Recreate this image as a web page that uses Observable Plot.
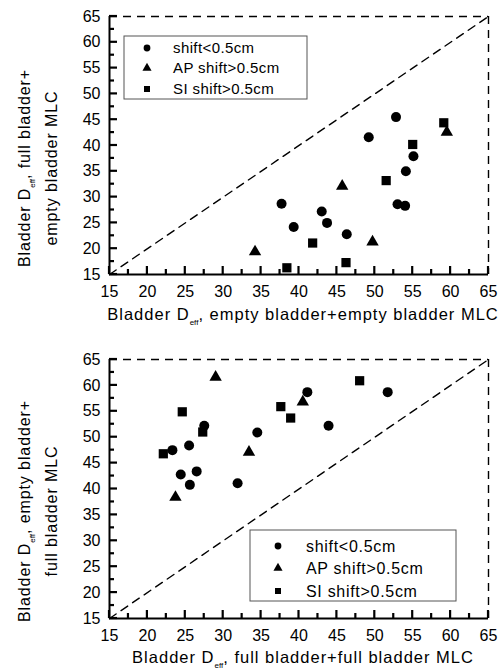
<!DOCTYPE html>
<html><head><meta charset="utf-8">
<script src="https://cdn.jsdelivr.net/npm/d3@7"></script>
<script src="https://cdn.jsdelivr.net/npm/@observablehq/plot@0.6"></script>
<style>
body{margin:0;background:#fff;font-family:"Liberation Sans",Arial,sans-serif}
svg{display:block}
</style>
</head><body><div id="chart"></div>
<script>
// ---- data ----
const seriesNames = ["shift<0.5cm", "AP shift>0.5cm", "SI shift>0.5cm"];
const seriesSymbols = ["circle", "triangle", "square"];
const majorTicks = [15, 20, 25, 30, 35, 40, 45, 50, 55, 60, 65];
const minorTicks = [17.5, 22.5, 27.5, 32.5, 37.5, 42.5, 47.5, 52.5, 57.5, 62.5];
const axisDomain = [15, 65];

// top panel: x = empty bladder + empty bladder MLC, y = full bladder + empty bladder MLC
const topShiftX = [37.7, 39.3, 43.0, 43.7, 46.3, 49.2, 52.8, 53.0, 54.0, 54.1, 55.1];
const topShiftY = [28.7, 24.2, 27.2, 25.0, 22.8, 41.6, 45.5, 28.6, 28.3, 35.0, 37.9];
const topAPX = [34.2, 45.7, 49.7, 59.5];
const topAPY = [19.4, 32.1, 21.3, 42.6];
const topSIX = [38.4, 41.8, 46.2, 51.5, 55.0, 59.1];
const topSIY = [16.3, 21.1, 17.3, 33.2, 40.2, 44.4];

// bottom panel: x = full bladder + full bladder MLC, y = empty bladder + full bladder MLC
const botShiftX = [23.3, 24.4, 25.5, 25.6, 26.5, 27.5, 31.9, 34.5, 41.1, 43.9, 51.7];
const botShiftY = [47.5, 42.8, 48.4, 40.8, 43.4, 52.2, 41.1, 50.9, 58.7, 52.2, 58.7];
const botAPX = [23.7, 29.0, 33.4, 40.5];
const botAPY = [38.4, 61.6, 47.1, 56.8];
const botSIX = [22.1, 24.6, 27.3, 37.6, 38.9, 48.0];
const botSIY = [46.8, 54.9, 51.0, 55.9, 53.7, 60.9];

const topYLabel = [["Bladder D", "eff", ", full bladder+"], ["empty bladder MLC"]];
const topXLabel = ["Bladder D", "eff", ", empty bladder+empty bladder MLC"];
const botYLabel = [["Bladder D", "eff", ", empty bladder+"], ["full bladder MLC"]];
const botXLabel = ["Bladder D", "eff", ", full bladder+full bladder MLC"];

const zip = (xs, ys) => xs.map((x, i) => ({x, y: ys[i]}));

function panel(cfg) {
  const W = 500, ml = 109, mr = 12;
  const dash = "8,6";
  const sizes = [5, 4.6, 5.2];
  const svg = Plot.plot({
    width: W, height: cfg.height,
    marginLeft: ml, marginRight: mr, marginTop: cfg.mt, marginBottom: cfg.mb,
    style: {fontFamily: '"Liberation Sans", Arial, sans-serif', fontSize: "16px", color: "#000", background: "#fff"},
    x: {domain: axisDomain, label: null},
    y: {domain: axisDomain, label: null},
    marks: [
      Plot.ruleY([65], {stroke: "#000", strokeWidth: 1.4, strokeDasharray: dash}),
      Plot.ruleX([65], {stroke: "#000", strokeWidth: 1.4, strokeDasharray: dash}),
      Plot.line(axisDomain.map(v => [v, v]), {stroke: "#000", strokeWidth: 1.4, strokeDasharray: dash}),
      Plot.axisX(majorTicks, {tickSize: 0, tickPadding: 11, fontSize: 16}),
      Plot.axisY(majorTicks, {tickSize: 0, tickPadding: 9, fontSize: 16}),
      Plot.ruleX([15], {stroke: "#000", strokeWidth: 2}),
      Plot.ruleY([15], {stroke: "#000", strokeWidth: 2}),
      ...cfg.series.map((s, i) => Plot.dot(s, {x: "x", y: "y", symbol: () => seriesSymbols[i], fill: "#000", stroke: "none", r: sizes[i]}))
    ]
  });
  const g = d3.select(svg);
  const sx = svg.scale("x"), sy = svg.scale("y");
  const x0 = sx.apply(axisDomain[0]), y0 = sy.apply(axisDomain[0]);
  const tg = g.append("g").attr("stroke", "#000").attr("stroke-width", 2.2);
  [[majorTicks, 8], [minorTicks, 5]].forEach(([ticks, len]) => {
    ticks.forEach(v => {
      const px = sx.apply(v), py = sy.apply(v);
      tg.append("line").attr("x1", px).attr("x2", px).attr("y1", y0).attr("y2", y0 - len);
      tg.append("line").attr("x1", x0).attr("x2", x0 + len).attr("y1", py).attr("y2", py);
    });
  });
  function addLabel(parts, x, y, rotate, fs, ls) {
    const t = g.append("text")
      .attr("transform", `translate(${x},${y})` + (rotate ? " rotate(-90)" : ""))
      .attr("text-anchor", "middle")
      .attr("font-size", fs)
      .attr("letter-spacing", ls)
      .attr("fill", "#000");
    parts.forEach((p, i) => {
      if (i === 1) {
        t.append("tspan").attr("font-size", 8).attr("letter-spacing", 0).attr("dy", 5).text(p);
      } else if (i === 2) {
        t.append("tspan").attr("dy", -5).text(p);
      } else {
        t.append("tspan").text(p);
      }
    });
  }
  addLabel(cfg.xLabel, 303, cfg.xLabelY, false, 16.5, 1);
  addLabel(cfg.yLabel[0], 30, cfg.yLabelCY, true, 16, 0.9);
  addLabel(cfg.yLabel[1], 57, cfg.yLabelCY, true, 16, 0.9);

  // legend
  const L = cfg.legend;
  const lg = g.append("g").attr("text-anchor", "start");
  lg.append("rect").attr("x", L.x).attr("y", L.y).attr("width", L.w).attr("height", L.h)
    .attr("fill", "#fff").attr("stroke", "#555").attr("stroke-width", 1);
  const symMap = {circle: d3.symbolCircle, triangle: d3.symbolTriangle, square: d3.symbolSquare};
  seriesNames.forEach((name, i) => {
    const cy = L.y + L.rows[i];
    lg.append("path").attr("transform", `translate(${L.sx},${cy})`)
      .attr("d", d3.symbol(symMap[seriesSymbols[i]], 36)()).attr("fill", "#000");
    lg.append("text").attr("x", L.tx).attr("y", cy).attr("dy", "0.36em")
      .attr("text-anchor", "start").attr("letter-spacing", L.ls)
      .attr("font-size", L.fs).attr("fill", "#000").text(name);
  });
  return svg;
}

const root = document.getElementById("chart");
root.appendChild(panel({
  height: 327, mt: 16, mb: 53,
  series: [zip(topShiftX, topShiftY), zip(topAPX, topAPY), zip(topSIX, topSIY)],
  xLabel: topXLabel, xLabelY: 320, yLabel: topYLabel, yLabelCY: 168,
  legend: {x: 124, y: 36, w: 183, h: 63, rows: [12, 32, 53], sx: 147, tx: 173, fs: 15, ls: 0.4}
}));
root.appendChild(panel({
  height: 344, mt: 32, mb: 53,
  series: [zip(botShiftX, botShiftY), zip(botAPX, botAPY), zip(botSIX, botSIY)],
  xLabel: botXLabel, xLabelY: 336, yLabel: botYLabel, yLabelCY: 184,
  legend: {x: 250, y: 203, w: 206, h: 71, rows: [16, 38, 61], sx: 278, tx: 306, fs: 16, ls: 0.7}
}));
</script>
</body></html>
